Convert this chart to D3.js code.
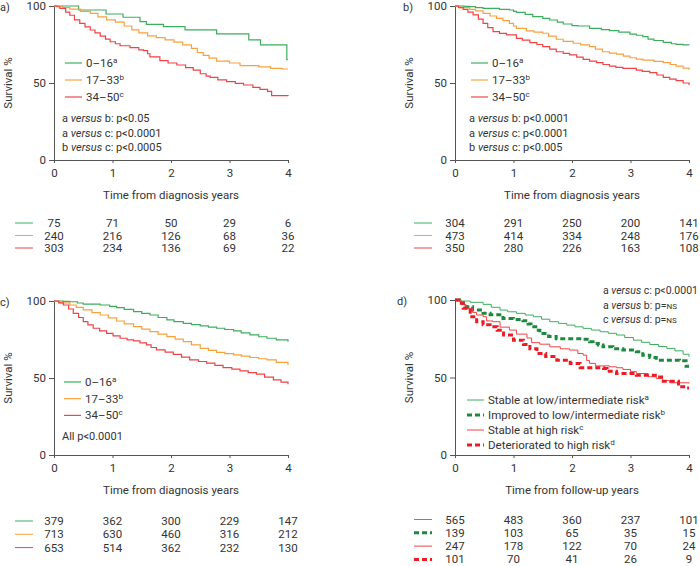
<!DOCTYPE html>
<html>
<head>
<meta charset="utf-8">
<script src="https://cdn.jsdelivr.net/npm/d3@7"></script>
<style>
  body { margin: 0; background: #fff; }
  svg { display: block; }
</style>
</head>
<body>
<div id="chart"></div>
<script>
// survival curves: [years, survival %]
var aLow  = [[0,100],[0.42,97.4],[0.89,94.8],[1.18,92.7],[1.47,89.9],[1.58,88.1],[1.87,86.6],[2.24,84.5],[2.78,81.9],[3.33,78.0],[3.53,74.8],[3.98,65.1],[4,65.1]];
var aMid  = [[0,100],[0.15,99],[0.27,98],[0.45,96.5],[0.62,95.2],[0.75,93],[0.9,91],[1.05,89.5],[1.2,87],[1.33,84.5],[1.45,82.5],[1.6,80.6],[1.75,79.5],[1.9,78],[2.05,76.5],[2.2,74.8],[2.35,72.5],[2.45,69.8],[2.55,68],[2.65,66.2],[2.78,64.2],[3.0,63],[3.18,61.3],[3.5,60.5],[3.7,59.5],[3.9,59.1],[4,59.1]];
var aHigh = [[0,100],[0.05,99.5],[0.1,98.5],[0.2,96],[0.27,94],[0.35,91],[0.44,88.7],[0.53,86.5],[0.62,84.4],[0.7,82.5],[0.79,80.5],[0.88,78.5],[0.96,76.8],[1.05,75.5],[1.13,74.2],[1.3,73],[1.45,71.5],[1.53,71],[1.6,69],[1.64,67],[1.81,64.5],[1.95,63],[2.1,61.7],[2.25,60],[2.38,58.4],[2.5,56],[2.6,54.5],[2.67,53.7],[2.8,52],[2.95,50.9],[3.1,49.8],[3.24,48.7],[3.4,47.2],[3.52,45.9],[3.65,44.5],[3.72,41.8],[4,41.6]];

var bLow  = [[0,100],[0.15,99.8],[0.25,99.6],[0.35,99],[0.48,98.5],[0.76,97.8],[0.93,97.4],[1.0,96.5],[1.05,95.9],[1.2,94.5],[1.33,93.1],[1.5,92],[1.62,90.9],[1.75,89.5],[1.85,88.3],[2.0,87.3],[2.1,87],[2.3,85.5],[2.5,84.6],[2.64,84],[2.8,83],[2.99,81.8],[3.1,81],[3.21,80.1],[3.3,78.5],[3.4,77.6],[3.56,76.4],[3.7,75.5],[3.78,75.1],[3.9,74.8],[4,74.7]];
var bMid  = [[0,100],[0.1,99],[0.25,97.8],[0.35,96.8],[0.48,95.2],[0.6,93.5],[0.71,92],[0.82,90.5],[0.93,88.7],[1.0,87],[1.05,85.5],[1.22,83.8],[1.35,83],[1.5,82.3],[1.6,80.5],[1.73,78.4],[1.85,77],[2.02,75.8],[2.15,74.8],[2.3,73.6],[2.4,72],[2.52,70.3],[2.64,69.4],[2.76,68.8],[2.88,67.5],[2.99,66.4],[3.1,65.5],[3.21,64.9],[3.4,64],[3.56,63.2],[3.68,62],[3.78,61],[3.9,59.7],[4,58.4]];
var bHigh = [[0,100],[0.06,99],[0.14,97.8],[0.22,96],[0.31,94.2],[0.4,91.5],[0.48,88.7],[0.56,86],[0.65,83.3],[0.76,82.2],[0.88,81.2],[1.05,79],[1.15,77.8],[1.28,76.2],[1.4,75],[1.5,73.6],[1.62,72],[1.73,70.3],[1.85,69.3],[1.96,68.2],[2.08,66.8],[2.19,65.4],[2.3,64.2],[2.42,63.2],[2.53,62],[2.64,61],[2.75,60.2],[2.87,59.5],[3.1,58.4],[3.2,57.5],[3.33,56.7],[3.45,55.2],[3.56,53.7],[3.67,52.5],[3.78,51.5],[3.9,50],[4,48.7]];

var cLow  = [[0,100],[0.15,99.8],[0.27,99.5],[0.4,98.7],[0.5,98],[0.79,97.4],[0.95,96.5],[1.07,95.7],[1.2,94.5],[1.36,93.1],[1.5,92],[1.64,90.9],[1.78,89.3],[1.93,87.7],[2.05,86.6],[2.21,85.5],[2.35,84.6],[2.5,83.8],[2.64,83],[2.78,82.3],[2.92,81.5],[3.07,80.6],[3.2,79.3],[3.35,78],[3.5,76.8],[3.64,75.8],[3.8,74.7],[4,73.6]];
var cMid  = [[0,100],[0.1,98.8],[0.27,97.4],[0.38,95.8],[0.5,94.2],[0.65,92.5],[0.79,90.9],[0.93,89],[1.07,87],[1.2,85.2],[1.36,83.4],[1.5,81.8],[1.64,80.1],[1.78,78.5],[1.93,76.9],[2.07,75.2],[2.21,73.6],[2.35,71.5],[2.5,69.3],[2.64,68],[2.78,66.7],[2.92,65.8],[3.07,65],[3.2,64.2],[3.35,63.3],[3.5,62.5],[3.64,61.8],[3.8,60.2],[4,58.5]];
var cHigh = [[0,100],[0.08,98.8],[0.16,97.4],[0.25,94.8],[0.33,92],[0.42,89.3],[0.5,86.6],[0.58,84.5],[0.67,82.3],[0.78,80.6],[0.9,79],[1.01,77.4],[1.13,75.8],[1.25,74.8],[1.36,74.1],[1.47,72.8],[1.58,71.5],[1.66,69.8],[1.75,68.3],[1.9,66.8],[2.04,65.4],[2.18,63.5],[2.32,61.8],[2.47,60.7],[2.61,59.6],[2.75,58.2],[2.89,56.8],[3.04,55.7],[3.18,54.6],[3.32,53.5],[3.46,52.5],[3.6,50.6],[3.75,48.8],[3.88,47.3],[4,46]];

var dStableLow  = [[0,100],[0.1,99.3],[0.26,98.5],[0.48,97.2],[0.62,95.3],[0.77,93.5],[0.9,92.4],[1.05,91.4],[1.2,90.3],[1.34,89.2],[1.48,87.6],[1.62,86],[1.77,84.9],[1.91,83.8],[2.05,82.7],[2.19,81.7],[2.33,80.6],[2.48,79.5],[2.62,78.5],[2.76,77.4],[2.9,75.8],[3.05,74.1],[3.19,72.7],[3.33,71.3],[3.48,70],[3.62,68.8],[3.76,67.2],[3.9,65],[4,63.4]];
var dImproved   = [[0,100],[0.08,98],[0.19,95.7],[0.3,93.5],[0.48,91.4],[0.6,90.5],[0.82,88.1],[1.0,87.5],[1.16,86.6],[1.25,84.5],[1.3,82.8],[1.38,80.5],[1.45,78.4],[1.6,76.5],[1.73,75],[2.19,74.6],[2.3,73],[2.36,72],[2.45,71],[2.53,69.8],[2.7,68.5],[2.87,67.7],[3.1,66.6],[3.21,64.4],[3.33,62.9],[3.44,61.2],[3.84,60.8],[3.95,57.3],[4,57.3]];
var dStableHigh = [[0,100],[0.1,97],[0.19,94.6],[0.3,92],[0.37,90.3],[0.48,89.2],[0.54,86.5],[0.65,86],[0.77,82.5],[0.93,80.6],[1.05,78],[1.23,75.5],[1.31,72.5],[1.45,71.5],[1.62,69.8],[1.8,68.5],[1.96,67.7],[2.1,65.5],[2.19,64.4],[2.25,61],[2.3,59.1],[2.4,57.5],[2.64,56.9],[2.76,56.3],[2.87,55.2],[3.0,53.8],[3.1,52.6],[3.3,50.5],[3.44,49.4],[3.55,48],[3.67,46.6],[4,46.1]];
var dDeterior   = [[0,100],[0.06,98],[0.14,94.6],[0.26,89.2],[0.37,86],[0.48,84],[0.6,82.8],[0.72,80.5],[0.83,77.4],[1.0,74.1],[1.17,71.3],[1.28,68.5],[1.4,65.5],[1.55,63.5],[1.74,61.2],[1.97,59.1],[2.14,56.3],[2.54,55.8],[2.6,54],[2.76,52.6],[3.1,51.5],[3.45,50.4],[3.56,47.6],[3.82,44],[3.95,43.3],[4,43.3]];

// numbers at risk
var aRisk = [[75,71,50,29,6],[240,216,126,68,36],[303,234,136,69,22]];
var bRisk = [[304,291,250,200,141],[473,414,334,248,176],[350,280,226,163,108]];
var cRisk = [[379,362,300,229,147],[713,630,460,316,212],[653,514,362,232,130]];
var dRisk = [[565,483,360,237,101],[139,103,65,35,15],[247,178,122,70,24],[101,70,41,26,9]];

var xTicks = [0,1,2,3,4];
var yTicks = [0,50,100];
var ageLabels = ["0\u201316","17\u201333","34\u201350"];
var ageSups = ["a","b","c"];
var riskLabels = ["Stable at low/intermediate risk","Improved to low/intermediate risk","Stable at high risk","Deteriorated to high risk"];
var riskSups = ["a","b","c","d"];

var FONT = "Roboto, 'DejaVu Sans Condensed', sans-serif";
var TXT = "#333";
var green = "#3dae5e", orange = "#f7a13e", red = "#ef4348";
var dGreen = "#1b8a3c", dRed = "#ec1c24";

var svg = d3.select("#chart").append("svg")
  .attr("width", 700).attr("height", 566)
  .style("font-family", FONT);
svg.append("rect").attr("width", 700).attr("height", 566).attr("fill", "#fff");

function drawPanel(p) {
  var g = svg.append("g");
  var x = d3.scaleLinear().domain([0,4]).range([p.x0, p.x1]);
  var y = d3.scaleLinear().domain([0,100]).range([p.y0, p.y1]);

  var xa = g.append("g").attr("transform", "translate(0," + p.y0 + ")")
    .call(d3.axisBottom(x).tickValues(xTicks).tickFormat(d3.format("d"))
      .tickSize(3).tickSizeOuter(0).tickPadding(6));
  var ya = g.append("g").attr("transform", "translate(" + p.x0 + ",0)")
    .call(d3.axisLeft(y).tickValues(yTicks).tickFormat(d3.format("d"))
      .tickSize(5).tickSizeOuter(0).tickPadding(3));
  [xa, ya].forEach(function(a) {
    a.selectAll("path,line").attr("stroke", "#555");
    a.selectAll("text").attr("fill", TXT).style("font-size", "11.5px").style("font-family", FONT);
  });

  g.append("text").attr("x", p.panelX).attr("y", p.y1 + 5)
    .attr("fill", TXT).style("font-size", "11px").text(p.letter);

  g.append("text")
    .attr("transform", "translate(" + p.ylabX + "," + ((p.y0 + p.y1) / 2) + ") rotate(-90)")
    .attr("text-anchor", "middle").attr("dy", "0.35em")
    .attr("fill", TXT).style("font-size", "11.5px").text("Survival %");

  g.append("text").attr("x", (p.x0 + p.x1) / 2).attr("y", p.y0 + 39)
    .attr("text-anchor", "middle").attr("fill", TXT).style("font-size", "11.5px")
    .text(p.xTitle);

  var line = d3.line().curve(d3.curveStepAfter)
    .x(function(d) { return x(d[0]); })
    .y(function(d) { return y(d[1]); });

  p.series.forEach(function(s) {
    g.append("path").datum(s.data)
      .attr("d", line).attr("fill", "none")
      .attr("stroke", s.color).attr("stroke-width", s.width)
      .attr("stroke-dasharray", s.dash || null);
  });

  // legend
  p.series.forEach(function(s, i) {
    var ly = p.legY + i * p.legStep;
    g.append("line").attr("x1", p.legX).attr("x2", p.legX + 17)
      .attr("y1", ly).attr("y2", ly)
      .attr("stroke", s.color).attr("stroke-width", s.width)
      .attr("stroke-dasharray", s.dash || null);
    var t = g.append("text").attr("x", p.legX + 21).attr("y", ly + 4)
      .attr("fill", TXT).style("font-size", "11.5px");
    t.append("tspan").text(s.label);
    t.append("tspan").attr("dy", -4).style("font-size", "8px").text(s.sup);
  });

  // p values
  p.notes.forEach(function(n, i) {
    var t = g.append("text").attr("x", p.noteX).attr("y", p.noteY + i * 14.5)
      .attr("fill", TXT).style("font-size", p.noteSize || "11px");
    n.forEach(function(part) {
      var sp = t.append("tspan").text(part.t);
      if (part.i) sp.style("font-style", "italic");
      if (part.s) sp.style("font-size", "8px");
    });
  });

  // numbers at risk
  p.risk.forEach(function(row, i) {
    var ry = p.riskY + i * p.riskStep;
    var s = p.series[i];
    g.append("line").attr("x1", p.riskLineX).attr("x2", p.riskLineX + 18)
      .attr("y1", ry).attr("y2", ry)
      .attr("stroke", s.color).attr("stroke-width", s.dash ? 3 : 1)
      .attr("stroke-dasharray", s.dash ? "5,3" : null);
    g.selectAll(null).data(row).enter().append("text")
      .attr("x", function(d, j) { return x(xTicks[j]); })
      .attr("y", ry + 4)
      .attr("text-anchor", "middle").attr("fill", TXT).style("font-size", "11.5px")
      .text(function(d) { return d; });
  });
}

function ageSeries(lo, mid, hi) {
  return [
    { data: lo, color: green, width: 1.2, label: ageLabels[0], sup: ageSups[0] },
    { data: mid, color: orange, width: 1.2, label: ageLabels[1], sup: ageSups[1] },
    { data: hi, color: red, width: 1.2, label: ageLabels[2], sup: ageSups[2] }
  ];
}

function vs(a, b, p) {
  return [{ t: a + " " }, { t: "versus", i: true }, { t: " " + b + ": p" + p }];
}

drawPanel({
  letter: "a)", panelX: 0, x0: 54, x1: 288, y0: 160, y1: 6, ylabX: 8,
  xTitle: "Time from diagnosis years",
  series: ageSeries(aLow, aMid, aHigh),
  legX: 65, legY: 63, legStep: 17,
  notes: [vs("a", "b", "<0.05"), vs("a", "c", "<0.0001"), vs("b", "c", "<0.0005")],
  noteX: 62, noteY: 122,
  risk: aRisk, riskY: 223, riskStep: 12.5, riskLineX: 15
});

drawPanel({
  letter: "b)", panelX: 403, x0: 455, x1: 689, y0: 160, y1: 6, ylabX: 409,
  xTitle: "Time from diagnosis years",
  series: ageSeries(bLow, bMid, bHigh),
  legX: 471, legY: 63, legStep: 17,
  notes: [vs("a", "b", "<0.0001"), vs("a", "c", "<0.0001"), vs("b", "c", "<0.005")],
  noteX: 469, noteY: 122,
  risk: bRisk, riskY: 223, riskStep: 12.5, riskLineX: 414
});

drawPanel({
  letter: "c)", panelX: 0, x0: 54, x1: 288, y0: 455, y1: 301, ylabX: 8,
  xTitle: "Time from diagnosis years",
  series: ageSeries(cLow, cMid, cHigh),
  legX: 64, legY: 382, legStep: 16.7,
  notes: [[{ t: "All p<0.0001" }]],
  noteX: 62, noteY: 440,
  risk: cRisk, riskY: 521, riskStep: 13.3, riskLineX: 15
});

drawPanel({
  letter: "d)", panelX: 397, x0: 455, x1: 689, y0: 455, y1: 300, ylabX: 409,
  xTitle: "Time from follow-up years",
  series: [
    { data: dStableLow, color: green, width: 1, label: riskLabels[0], sup: riskSups[0] },
    { data: dImproved, color: dGreen, width: 3, dash: "5,3", label: riskLabels[1], sup: riskSups[1] },
    { data: dStableHigh, color: red, width: 1, label: riskLabels[2], sup: riskSups[2] },
    { data: dDeterior, color: dRed, width: 3, dash: "5,3", label: riskLabels[3], sup: riskSups[3] }
  ],
  legX: 467, legY: 400, legStep: 15,
  notes: [vs("a", "c", "<0.0001"), [{ t: "a " }, { t: "versus", i: true }, { t: " b: p=" }, { t: "NS", s: true }],
          [{ t: "c " }, { t: "versus", i: true }, { t: " d: p=" }, { t: "NS", s: true }]],
  noteX: 603, noteY: 294, noteSize: "10.5px",
  risk: dRisk, riskY: 519.5, riskStep: 13.3, riskLineX: 414
});
</script>
</body>
</html>
